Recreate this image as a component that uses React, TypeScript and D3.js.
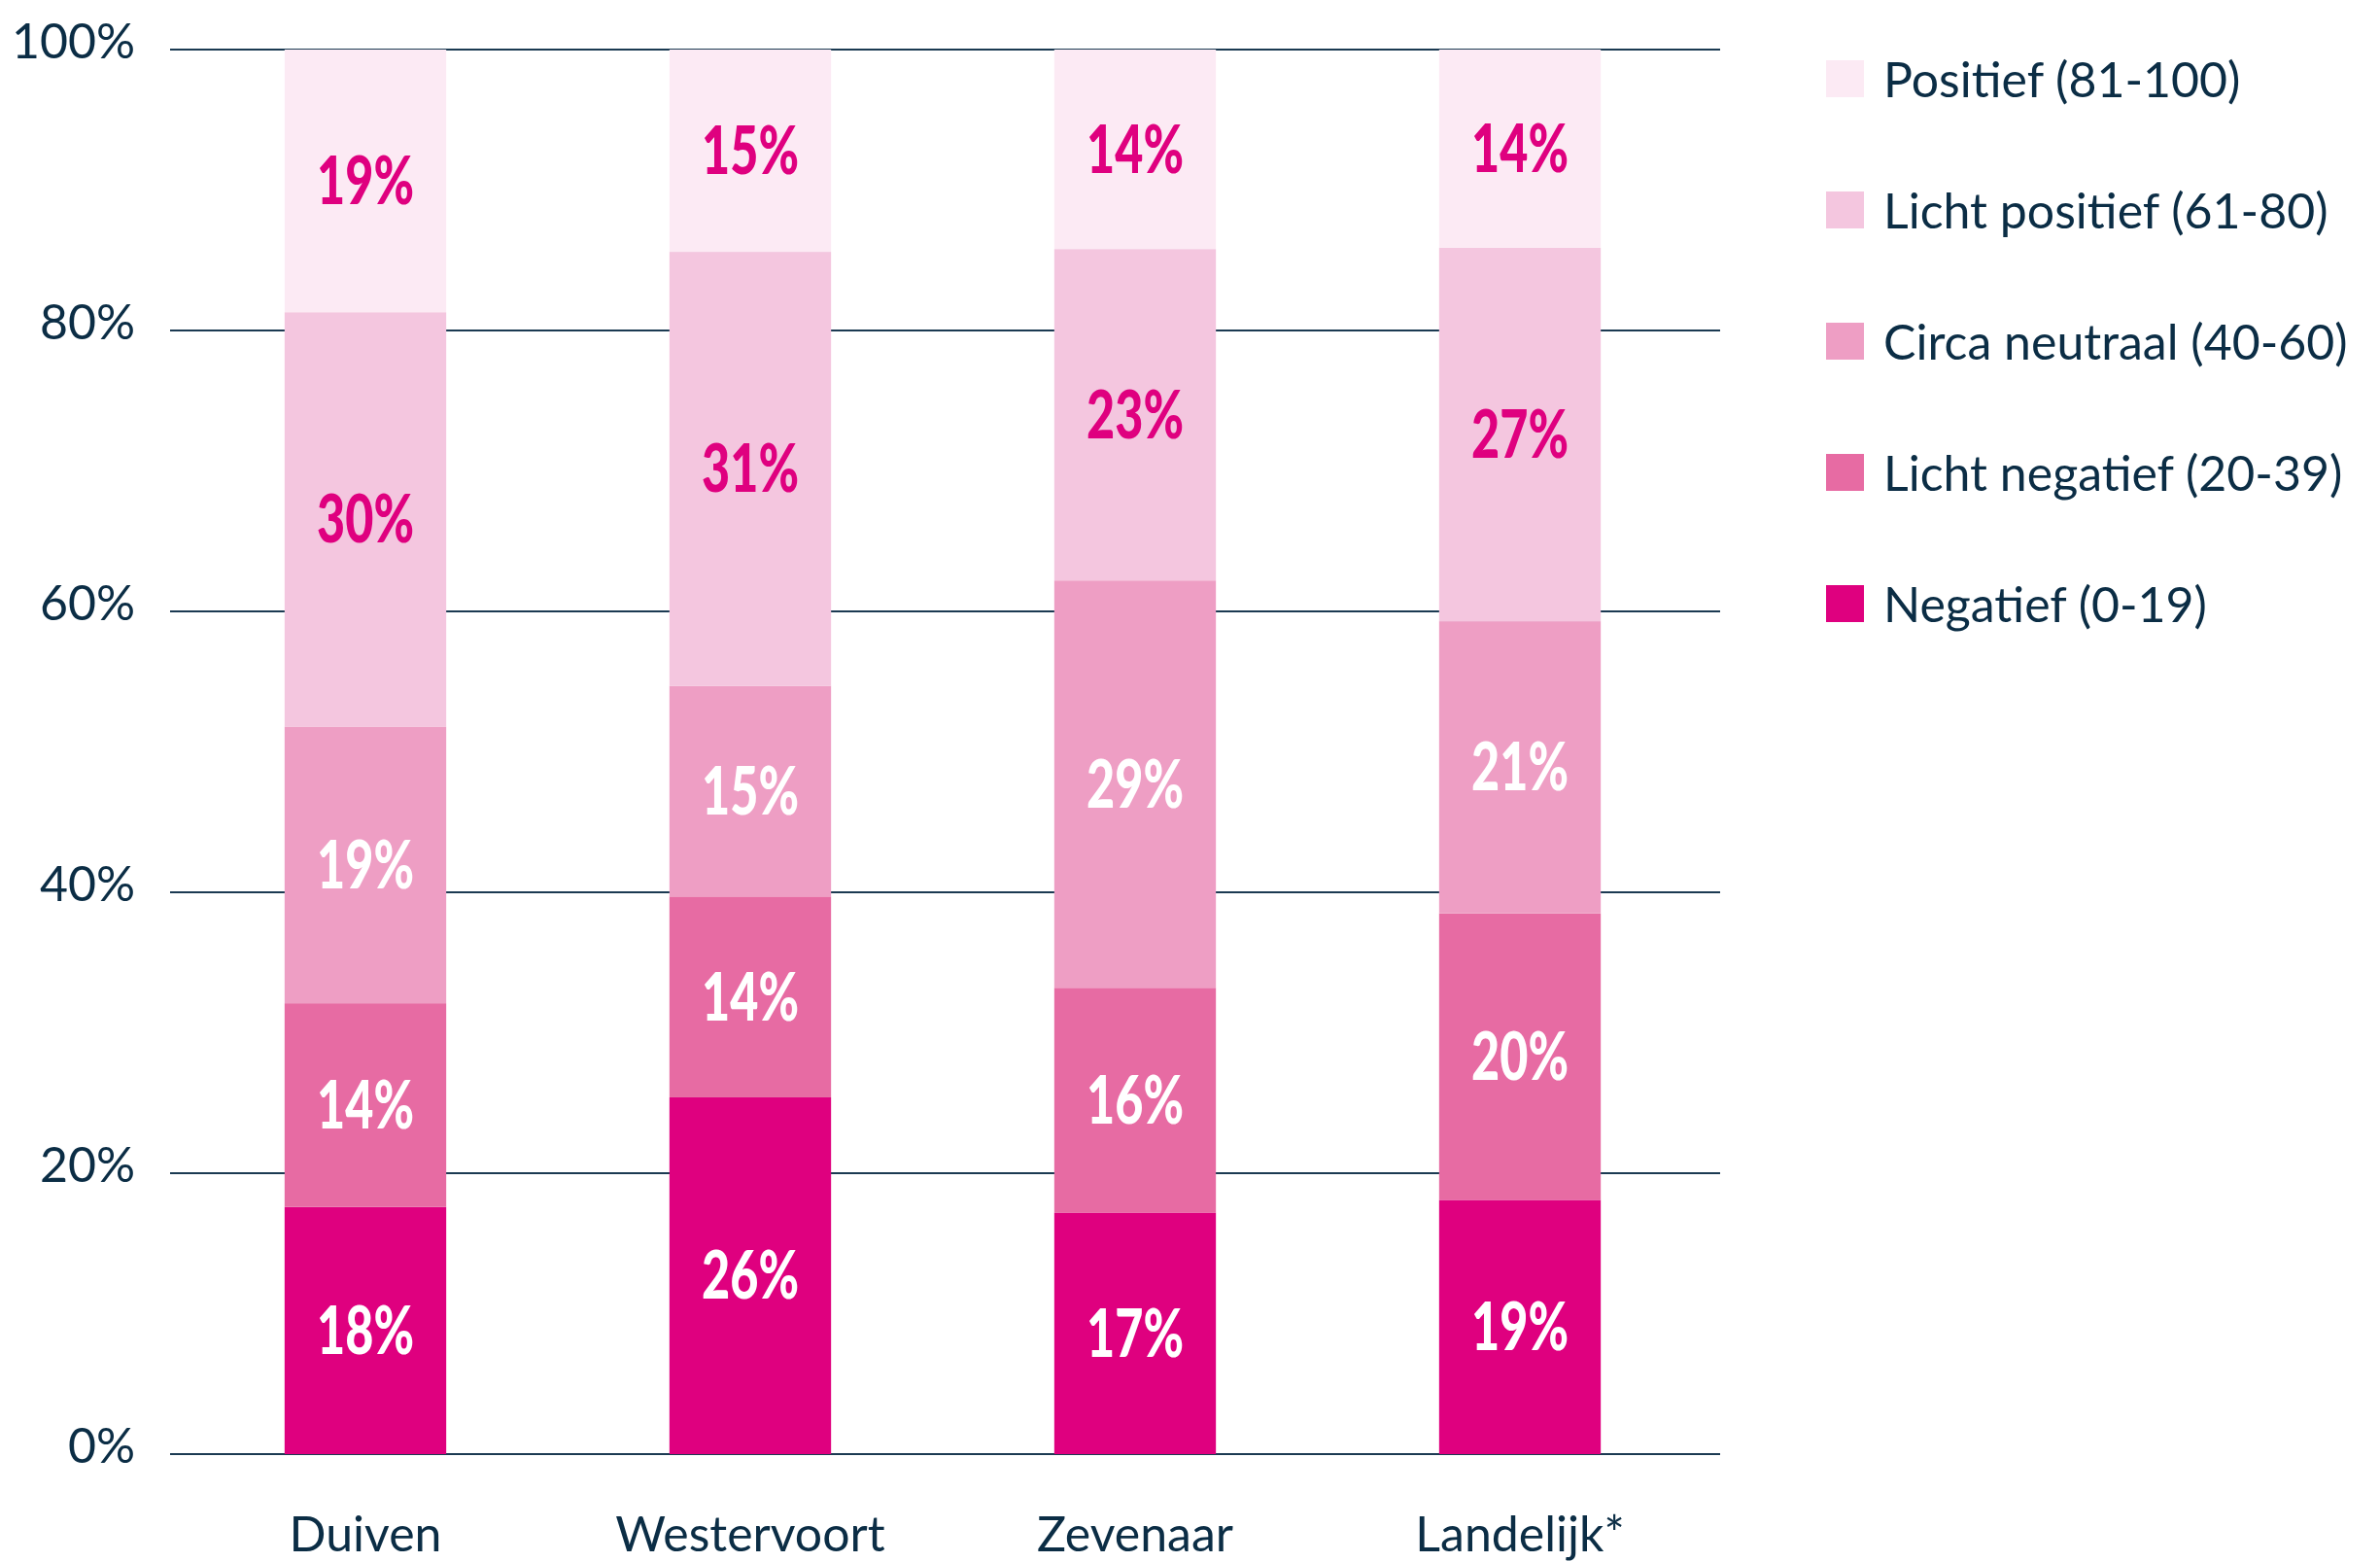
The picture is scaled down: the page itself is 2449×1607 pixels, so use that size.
import React from "react";
import * as d3 from "d3";

const categories = ["Duiven", "Westervoort", "Zevenaar", "Landelijk*"];
const seriesNames = [
  "Negatief (0-19)",
  "Licht negatief (20-39)",
  "Circa neutraal (40-60)",
  "Licht positief (61-80)",
  "Positief (81-100)",
];
const negatief = [17.6, 25.4, 17.2, 18.1];
const lichtNegatief = [14.5, 14.3, 16.0, 20.4];
const circaNeutraal = [19.7, 15.0, 29.0, 20.8];
const lichtPositief = [29.5, 30.9, 23.6, 26.6];
const positief = [18.7, 14.4, 14.2, 14.1];

const labelsNegatief = ["18%", "26%", "17%", "19%"];
const labelsLichtNegatief = ["14%", "14%", "16%", "20%"];
const labelsCircaNeutraal = ["19%", "15%", "29%", "21%"];
const labelsLichtPositief = ["30%", "31%", "23%", "27%"];
const labelsPositief = ["19%", "15%", "14%", "14%"];

const yTicks = [0, 20, 40, 60, 80, 100];

const colors = ["#DF007F", "#E76BA3", "#EE9EC4", "#F4C6DF", "#FCEAF4"];
const labelColors = ["#FFFFFF", "#FFFFFF", "#FFFFFF", "#DF007F", "#DF007F"];
const textColor = "#0B2D45";

export default function App() {
  const W = 2449;
  const H = 1607;
  const values = [negatief, lichtNegatief, circaNeutraal, lichtPositief, positief];
  const labels = [
    labelsNegatief,
    labelsLichtNegatief,
    labelsCircaNeutraal,
    labelsLichtPositief,
    labelsPositief,
  ];

  const rows = categories.map((c, i) => {
    const r: any = { cat: c };
    seriesNames.forEach((s, k) => (r[s] = values[k][i]));
    return r;
  });
  const stacked = d3.stack().keys(seriesNames)(rows);

  const y = d3.scaleLinear().domain([0, 100]).range([1496, 51]);
  const x = d3
    .scaleBand()
    .domain(categories)
    .range([178, 1762])
    .paddingInner(0.58)
    .paddingOuter(0.29);
  const gridX0 = 175;
  const gridX1 = 1770;

  const fontMain = "Lato, 'Open Sans', sans-serif";
  const fontLabel = "Lato, 'Open Sans', sans-serif";

  return (
    <svg
      width={W}
      height={H}
      style={{ position: "absolute", left: 0, top: 0, display: "block", background: "#fff" }}
    >
      {yTicks.map((t) => (
        <g key={t}>
          <line
            x1={gridX0}
            x2={gridX1}
            y1={y(t)}
            y2={y(t)}
            stroke="#1B3A52"
            strokeWidth={2}
          />
          <text
            x={139}
            y={y(t) + 9}
            textAnchor="end"
            fontFamily={fontMain}
            fontSize={50}
            fill={textColor}
          >
            {t + "%"}
          </text>
        </g>
      ))}

      {stacked.map((layer, k) => (
        <g key={layer.key}>
          {layer.map((d, i) => {
            const cat = categories[i];
            const x0 = x(cat)!;
            const y0 = y(d[1]);
            const y1 = y(d[0]);
            return (
              <rect
                key={cat}
                x={x0}
                y={y0}
                width={x.bandwidth()}
                height={y1 - y0}
                fill={colors[k]}
              />
            );
          })}
        </g>
      ))}

      {stacked.map((layer, k) => (
        <g key={layer.key + "-lbl"}>
          {layer.map((d, i) => {
            const cat = categories[i];
            const cx = x(cat)! + x.bandwidth() / 2;
            const cy = (y(d[0]) + y(d[1])) / 2;
            return (
              <text
                key={cat}
                transform={`translate(${cx},${cy + 24}) scale(0.74,1)`}
                textAnchor="middle"
                fontFamily={fontLabel}
                fontWeight={900}
                fontSize={68}
                fill={labelColors[k]}
              >
                {labels[k][i]}
              </text>
            );
          })}
        </g>
      ))}

      {categories.map((c) => (
        <text
          key={c}
          x={x(c)! + x.bandwidth() / 2}
          y={1596}
          textAnchor="middle"
          fontFamily={fontMain}
          fontSize={50}
          fill={textColor}
        >
          {c}
        </text>
      ))}

      {seriesNames
        .slice()
        .reverse()
        .map((s, j) => {
          const k = seriesNames.length - 1 - j;
          const cy = 81 + j * 135;
          return (
            <g key={s}>
              <rect x={1879} y={cy - 19} width={39} height={38} fill={colors[k]} />
              <text
                x={1938}
                y={cy + 19}
                fontFamily={fontMain}
                fontSize={50}
                fill={textColor}
              >
                {s}
              </text>
            </g>
          );
        })}
    </svg>
  );
}
